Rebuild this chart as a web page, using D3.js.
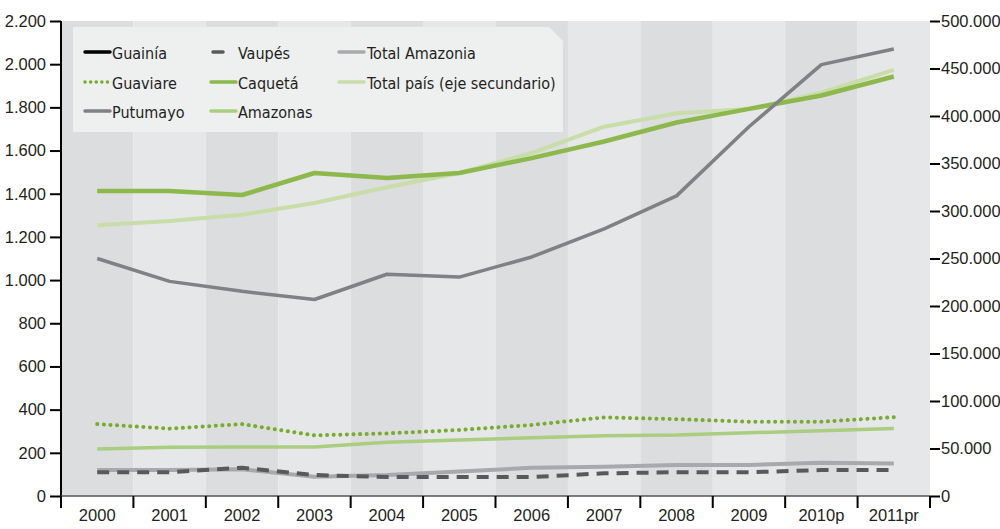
<!DOCTYPE html>
<html>
<head>
<meta charset="utf-8">
<script src="https://cdn.jsdelivr.net/npm/d3@7"></script>
<style>
  html, body { margin: 0; padding: 0; background: #ffffff; }
  svg { display: block; font-family: "DejaVu Sans Condensed", "Liberation Sans Narrow", "Liberation Sans", sans-serif; }
  .tick text { font-size: 16.5px; fill: #231f20; }
</style>
</head>
<body>
<svg id="chart" width="1000" height="529"></svg>
<script>
// Years on the horizontal axis
const years = ["2000", "2001", "2002", "2003", "2004", "2005", "2006", "2007", "2008", "2009", "2010p", "2011pr"];

// Departments (left axis)
const guainia = [];
const vaupes = [110, 110, 131, 97, 88, 88, 88, 105, 110, 110, 120, 120];
const totalAmazonia = [120, 120, 124, 89, 97, 113, 131, 136, 144, 144, 154, 151];
const guaviare = [333, 312, 333, 281, 290, 306, 329, 364, 356, 344, 344, 365];
const caqueta = [1413, 1413, 1394, 1496, 1473, 1496, 1565, 1642, 1730, 1793, 1855, 1943];
const putumayo = [1100, 994, 948, 910, 1027, 1014, 1107, 1237, 1390, 1710, 1998, 2070];
const amazonas = [218, 226, 227, 227, 249, 259, 270, 279, 282, 293, 302, 313];

// Country total (right axis)
const totalPais = [285000, 289500, 296000, 308500, 325000, 340000, 361000, 388700, 402800, 407500, 424500, 448500];

// Axis ticks
const leftTicks = [0, 200, 400, 600, 800, 1000, 1200, 1400, 1600, 1800, 2000, 2200];
const rightTicks = [0, 50000, 100000, 150000, 200000, 250000, 300000, 350000, 400000, 450000, 500000];

const svg = d3.select("#chart");
const margin = { left: 61, right: 70, top: 21, bottom: 33 };
const W = 1000, H = 529;
const x0 = margin.left, x1 = W - margin.right;
const y0 = H - margin.bottom, y1 = margin.top;

const x = d3.scaleBand().domain(years).range([x0, x1]).paddingInner(0).paddingOuter(0);
const yL = d3.scaleLinear().domain([0, 2200]).range([y0, y1]);
const yR = d3.scaleLinear().domain([0, 500000]).range([y0, y1]);
const cx = d => x(d) + x.bandwidth() / 2;
const fmt = d => d3.format(",")(d).replace(/,/g, ".");

// Alternating year bands
svg.append("g").selectAll("rect").data(years).join("rect")
  .attr("x", d => x(d)).attr("y", y1)
  .attr("width", x.bandwidth()).attr("height", y0 - y1)
  .attr("fill", (d, i) => i % 2 === 0 ? "#dcdddf" : "#e6e7e8");

// Legend panel with clipped corner
const lg = { x: 73, y: 27, w: 490, h: 105, cut: 14 };
svg.append("path")
  .attr("d", `M${lg.x},${lg.y}H${lg.x + lg.w - lg.cut}L${lg.x + lg.w},${lg.y + lg.cut}V${lg.y + lg.h}H${lg.x}Z`)
  .attr("fill", "#eeefef");

// Series definitions
const series = [
  { name: "Total país (eje secundario)", values: totalPais, axis: "R", color: "#c8dda7", width: 4, dash: null },
  { name: "Amazonas", values: amazonas, axis: "L", color: "#aacd80", width: 3.5, dash: null },
  { name: "Total Amazonia", values: totalAmazonia, axis: "L", color: "#a7a9ac", width: 4, dash: null },
  { name: "Guainía", values: guainia, axis: "L", color: "#000000", width: 4, dash: null },
  { name: "Vaupés", values: vaupes, axis: "L", color: "#58595b", width: 4, dash: "12 8" },
  { name: "Guaviare", values: guaviare, axis: "L", color: "#7aab2f", width: 4, dash: "0.1 6.5", cap: "round" },
  { name: "Putumayo", values: putumayo, axis: "L", color: "#808184", width: 3.5, dash: null },
  { name: "Caquetá", values: caqueta, axis: "L", color: "#8cb84c", width: 4.5, dash: null }
];

const lineGen = scale => d3.line().x((d, i) => cx(years[i])).y(d => scale(d));

const drawOrder = ["Amazonas", "Total Amazonia", "Guainía", "Vaupés", "Guaviare", "Total país (eje secundario)", "Caquetá", "Putumayo"];
drawOrder.forEach(n => {
  const s = series.find(q => q.name === n);
  if (!s.values.length) return;
  svg.append("path")
    .datum(s.values)
    .attr("d", lineGen(s.axis === "R" ? yR : yL))
    .attr("fill", "none")
    .attr("stroke", s.color)
    .attr("stroke-width", s.width)
    .attr("stroke-linejoin", "round")
    .attr("stroke-linecap", s.cap || "butt")
    .attr("stroke-dasharray", s.dash);
});

// Axes
const gL = svg.append("g").attr("transform", `translate(${x0},0)`)
  .call(d3.axisLeft(yL).tickValues(leftTicks).tickSize(11).tickPadding(4).tickFormat(fmt));
gL.select(".domain").attr("stroke", "#000").attr("stroke-width", 2).attr("d", `M0,${y1}V${y0 + 11}`);
gL.selectAll(".tick line").attr("stroke", "#000").attr("stroke-width", 2);

const gR = svg.append("g").attr("transform", `translate(${x1},0)`)
  .call(d3.axisRight(yR).tickValues(rightTicks).tickSize(10).tickPadding(1).tickFormat(fmt));
gR.select(".domain").remove();
gR.selectAll(".tick line").attr("stroke", "#000").attr("stroke-width", 2);

const gB = svg.append("g").attr("transform", `translate(0,${y0})`)
  .call(d3.axisBottom(x).tickSize(0).tickPadding(13));
gB.select(".domain").attr("stroke", "#555").attr("stroke-width", 1.5).attr("d", `M${x0},0H${x1}`);
gB.append("g").selectAll("line").data(years.concat(["end"])).join("line")
  .attr("x1", (d, i) => i < years.length ? x(d) : x1)
  .attr("x2", (d, i) => i < years.length ? x(d) : x1)
  .attr("y1", 0).attr("y2", 12)
  .attr("stroke", "#000").attr("stroke-width", 2);

// Legend entries
const legendItems = [
  { name: "Guainía", col: 0, row: 0 },
  { name: "Guaviare", col: 0, row: 1 },
  { name: "Putumayo", col: 0, row: 2 },
  { name: "Vaupés", col: 1, row: 0, short: true },
  { name: "Caquetá", col: 1, row: 1 },
  { name: "Amazonas", col: 1, row: 2 },
  { name: "Total Amazonia", col: 2, row: 0 },
  { name: "Total país (eje secundario)", col: 2, row: 1 }
];
const colX = [85, 211, 339];
const textX = [112, 238, 367];
const rowY = [53, 83, 112];
const lgG = svg.append("g");
legendItems.forEach(it => {
  const s = series.find(q => q.name === it.name);
  const y = rowY[it.row];
  lgG.append("line")
    .attr("x1", colX[it.col] + (it.short ? 2 : 0))
    .attr("x2", colX[it.col] + (it.short ? 12 : 25))
    .attr("y1", y - 1).attr("y2", y - 1)
    .attr("stroke", s.color)
    .attr("stroke-width", 3.5)
    .attr("stroke-linecap", "round")
    .attr("stroke-dasharray", s.cap ? "0.1 5.5" : null);
  lgG.append("text")
    .attr("x", textX[it.col]).attr("y", y + 6)
    .attr("font-size", 16).attr("fill", "#231f20")
    .text(it.name);
});
</script>
</body>
</html>
